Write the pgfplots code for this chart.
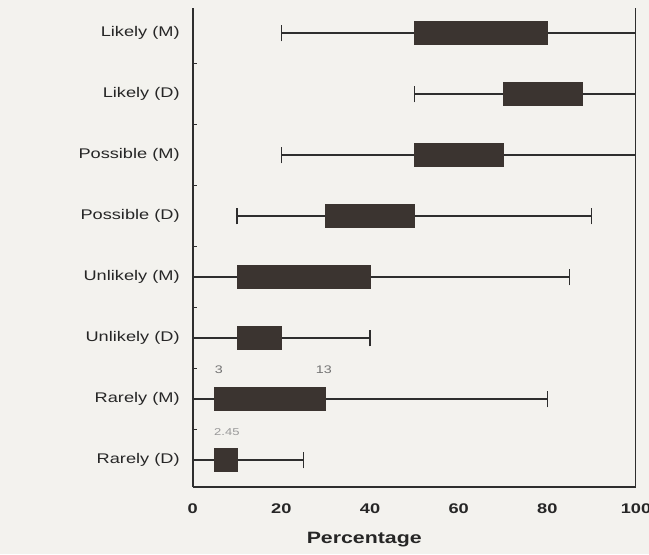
\documentclass[border=0pt]{standalone}
\usepackage{fontspec}
\setmainfont{Liberation Sans}[FakeStretch=1.3]
\usepackage{pgfplots}
\pgfplotsset{compat=1.18}
\usepgfplotslibrary{statistics}
\usetikzlibrary{backgrounds}
\definecolor{boxc}{HTML}{3B3430}
\definecolor{wc}{HTML}{2E2E2E}
\definecolor{bg}{HTML}{F3F2EE}
\definecolor{txt}{HTML}{262626}
\begin{document}
\begin{tikzpicture}
\begin{axis}[
  scale only axis, width=221.65pt, height=239.5pt,
  xmin=0, xmax=100, ymin=-0.44, ymax=7.41,
  axis x line*=bottom, axis y line*=left,
  axis line style={line width=0.9pt, draw=wc},
  xtick={0,20,40,60,80,100},
  ytick={0,...,7},
  yticklabels={Rarely (D), Rarely (M), Unlikely (D), Unlikely (M), Possible (D), Possible (M), Likely (D), Likely (M)},
  minor ytick={0.5,1.5,...,6.5},
  major tick length=0pt, minor tick length=2pt,
  minor tick style={draw=wc, line width=0.6pt},
  /pgf/number format/assume math mode=true,
  tick label style={font=\fontsize{7}{8}\selectfont, text=txt},
  xticklabel style={yshift=-5pt, font=\fontsize{7}{8}\selectfont\bfseries},
  yticklabel style={xshift=-3pt},
  xlabel={Percentage},
  xlabel style={at={(rel axis cs:0.387,0)}, anchor=center, yshift=-26.5pt, font=\fontsize{8.2}{10}\selectfont\bfseries, text=txt},
  boxplot/draw direction=x,
  boxplot/box extend=0.37,
  boxplot/whisker extend=0.27,
  boxplot/every whisker/.style={draw=wc, line width=0.75pt},
  boxplot/every median/.style={draw=boxc},
  boxplot/every box/.style={draw=boxc, fill=boxc},
]
\coordinate (sw) at (rel axis cs:0,0);
\coordinate (ne) at (rel axis cs:1,1);
\addplot[boxc, boxplot prepared={draw position=7, lower whisker=20, lower quartile=50, median=65, upper quartile=80, upper whisker=100}] coordinates {};
\addplot[boxc, boxplot prepared={draw position=6, lower whisker=50, lower quartile=70, median=79, upper quartile=88, upper whisker=100}] coordinates {};
\addplot[boxc, boxplot prepared={draw position=5, lower whisker=20, lower quartile=50, median=60, upper quartile=70, upper whisker=100}] coordinates {};
\addplot[boxc, boxplot prepared={draw position=4, lower whisker=10, lower quartile=30, median=40, upper quartile=50, upper whisker=90}] coordinates {};
\addplot[boxc, boxplot prepared={draw position=3, lower whisker=0, lower quartile=10, median=25, upper quartile=40, upper whisker=85}] coordinates {};
\addplot[boxc, boxplot prepared={draw position=2, lower whisker=0, lower quartile=10, median=15, upper quartile=20, upper whisker=40}] coordinates {};
\addplot[boxc, boxplot prepared={draw position=1, lower whisker=0, lower quartile=5, median=17, upper quartile=30, upper whisker=80}] coordinates {};
\addplot[boxc, boxplot prepared={draw position=0, lower whisker=0, lower quartile=5, median=7.5, upper quartile=10, upper whisker=25}] coordinates {};
\addplot[draw=wc, line width=0.9pt] coordinates {(100,-0.44) (100,7.41)};
\node[font=\fontsize{5.5}{6}\selectfont, text=gray!90!black] at (axis cs:5.9,1.48) {3};
\node[font=\fontsize{5.5}{6}\selectfont, text=gray!90!black] at (axis cs:29.6,1.48) {13};
\node[font=\fontsize{5}{6}\selectfont, text=gray!80] at (axis cs:7.7,0.46) {2.45};
\end{axis}
\pgfresetboundingbox
\path[use as bounding box] ([xshift=-96.35pt,yshift=-33.5pt]sw) rectangle ([xshift=6.5pt,yshift=4pt]ne);
\begin{scope}[on background layer]
\fill[bg] ([xshift=-96.35pt,yshift=-33.5pt]sw) rectangle ([xshift=6.5pt,yshift=4pt]ne);
\end{scope}
\end{tikzpicture}
\end{document}
